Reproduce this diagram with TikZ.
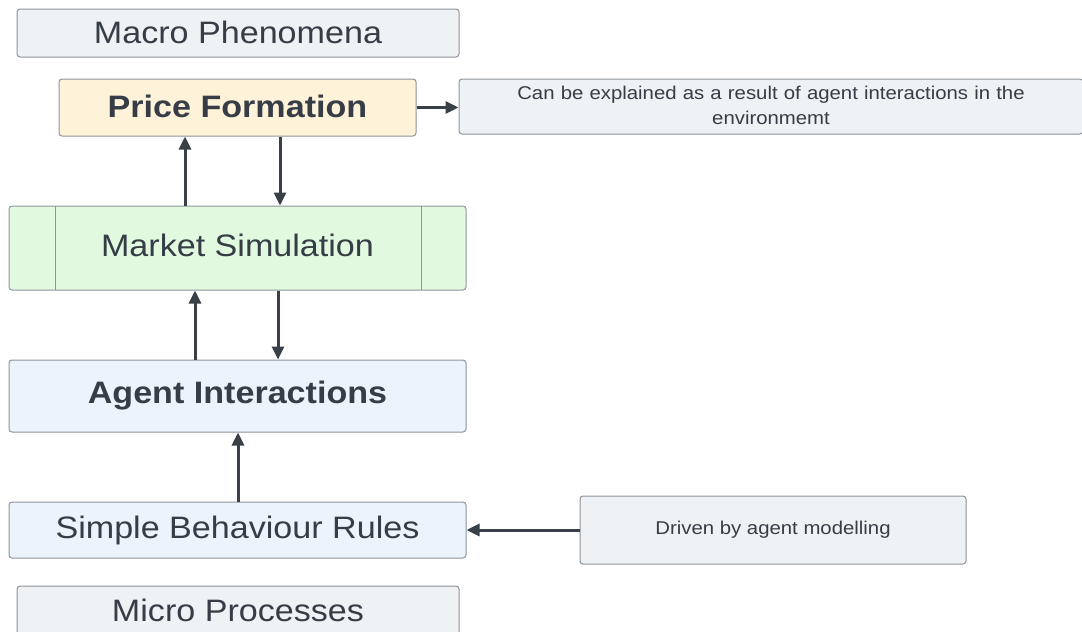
\documentclass[tikz,border=0pt]{standalone}
\usepackage{fontspec}
\setmainfont[FakeStretch=1.1]{Liberation Sans}
\usetikzlibrary{arrows.meta}
\definecolor{txt}{HTML}{363D46}
\definecolor{edge}{HTML}{8E949A}
\definecolor{grayfill}{HTML}{EFF2F4}
\definecolor{creamfill}{HTML}{FEF3D9}
\definecolor{greenfill}{HTML}{E0F9DF}
\definecolor{bluefill}{HTML}{EBF3FD}
\definecolor{arrowc}{HTML}{3A4047}
\tikzset{
  box/.style={draw=edge, line width=1pt, rounded corners=3pt, inner sep=0pt, text=txt, align=center},
  bigtext/.style={font=\fontsize{31}{36}\selectfont},
  boldtext/.style={font=\fontsize{31}{36}\selectfont\bfseries},
  smalltext/.style={font=\fontsize{18.5}{25}\selectfont},
  conn/.style={draw=arrowc, line width=3pt, -{Triangle[length=13pt,width=12pt]}},
}
\begin{document}
\begin{tikzpicture}[x=1pt,y=-1pt]
\useasboundingbox[fill=white] (0,0) rectangle (1082,632);
% boxes
\node[box, fill=grayfill, bigtext, minimum width=442pt, minimum height=48pt] (macro) at (238,33) {\raisebox{1pt}{Macro Phenomena}};
\node[box, fill=creamfill, boldtext, minimum width=357pt, minimum height=57pt] (price) at (237.5,107.5) {\raisebox{3pt}{Price Formation}};
\node[box, fill=grayfill, smalltext, minimum width=624pt, minimum height=55pt, text width=560pt] (note1) at (771,106.5) {\raisebox{2pt}{Can be explained as a result of agent interactions in the}\\\raisebox{2pt}{environmemt}};
\node[box, fill=greenfill, bigtext, minimum width=457pt, minimum height=84pt] (market) at (237.5,248) {\raisebox{5pt}{Market Simulation}};
\draw[edge, line width=1pt] (55,206) -- (55,290) (421,206) -- (421,290);
\node[box, fill=bluefill, boldtext, minimum width=457pt, minimum height=72pt] (agent) at (237.5,396) {\raisebox{4pt}{Agent Interactions}};
\node[box, fill=bluefill, bigtext, minimum width=457pt, minimum height=56pt] (simple) at (237.5,530) {\raisebox{3pt}{Simple Behaviour Rules}};
\node[box, fill=grayfill, bigtext, minimum width=442pt, minimum height=54pt] (micro) at (238,613) {\raisebox{5pt}{Micro Processes}};
\node[box, fill=grayfill, smalltext, minimum width=386pt, minimum height=68pt] (driven) at (773,530) {\raisebox{1pt}{Driven by agent modelling}};
% connectors
\draw[conn] (price.east) -- (note1.west |- price.east);
\draw[conn] (market.north -| 185,0) -- (price.south -| 185,0);
\draw[conn] (price.south -| 280,0) -- (market.north -| 280,0);
\draw[conn] (agent.north -| 195,0) -- (market.south -| 195,0);
\draw[conn] (market.south -| 278,0) -- (agent.north -| 278,0);
\draw[conn] (simple.north -| 238,0) -- (agent.south -| 238,0);
\draw[conn] (driven.west) -- (simple.east |- driven.west);
\end{tikzpicture}
\end{document}
